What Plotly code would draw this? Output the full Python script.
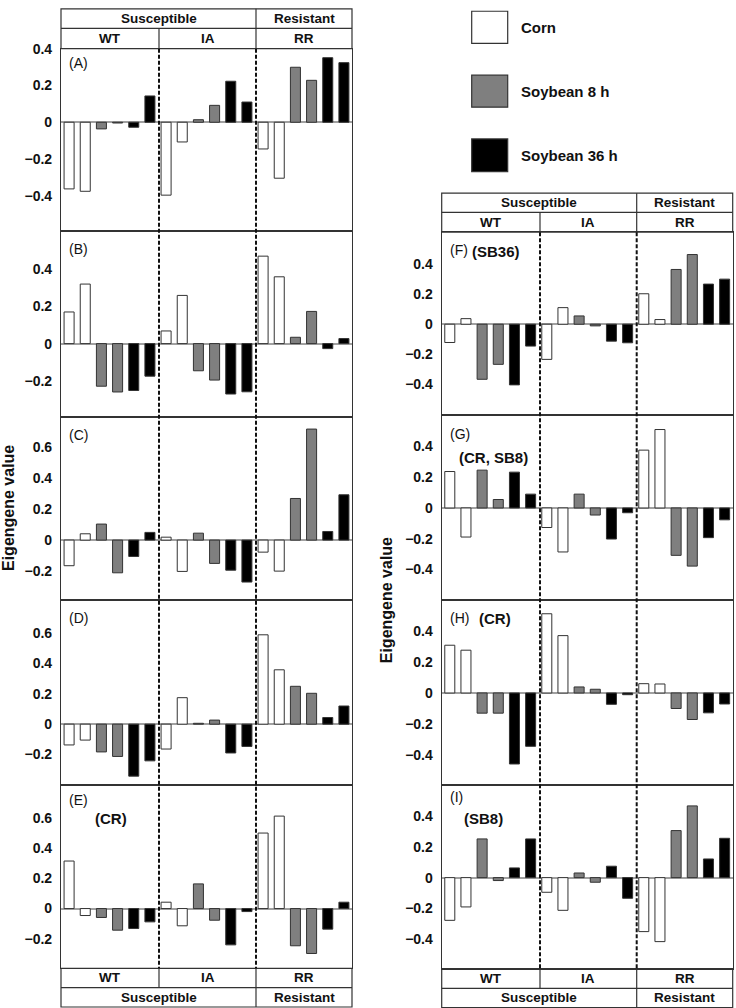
import plotly.graph_objects as go

W, H = 736, 1008

# ---------------- data ----------------
groups = ["WT", "IA", "RR"]
treatments = ["Corn", "Corn", "Soybean 8 h", "Soybean 8 h", "Soybean 36 h", "Soybean 36 h"]
bar_labels = [f"{g} {t} {i % 2 + 1}" for g in groups for i, t in enumerate(treatments)]

panel_A = [-0.362, -0.375, -0.036, -0.004, -0.027, 0.143,
           -0.396, -0.107, 0.014, 0.092, 0.223, 0.110,
           -0.145, -0.304, 0.299, 0.228, 0.351, 0.324]
panel_B = [0.170, 0.320, -0.229, -0.260, -0.252, -0.175,
           0.068, 0.259, -0.146, -0.196, -0.271, -0.259,
           0.470, 0.359, 0.034, 0.173, -0.027, 0.027]
panel_C = [-0.166, 0.041, 0.104, -0.212, -0.106, 0.050,
           0.019, -0.203, 0.045, -0.151, -0.195, -0.272,
           -0.078, -0.201, 0.270, 0.720, 0.056, 0.294]
panel_D = [-0.137, -0.105, -0.183, -0.213, -0.343, -0.242,
           -0.164, 0.175, 0.006, 0.027, -0.190, -0.147,
           0.590, 0.359, 0.250, 0.204, 0.044, 0.120]
panel_E = [0.314, -0.046, -0.059, -0.143, -0.132, -0.088,
           0.042, -0.114, 0.163, -0.077, -0.240, -0.020,
           0.499, 0.611, -0.246, -0.297, -0.136, 0.042]
panel_F = [-0.121, 0.037, -0.365, -0.266, -0.402, -0.145,
           -0.233, 0.110, 0.055, -0.011, -0.112, -0.123,
           0.202, 0.031, 0.363, 0.462, 0.266, 0.299]
panel_G = [0.237, -0.189, 0.246, 0.055, 0.233, 0.090,
           -0.127, -0.286, 0.090, -0.046, -0.202, -0.031,
           0.376, 0.510, -0.308, -0.378, -0.193, -0.077]
panel_H = [0.308, 0.276, -0.130, -0.130, -0.458, -0.344,
           0.511, 0.370, 0.039, 0.024, -0.073, -0.011,
           0.060, 0.058, -0.100, -0.171, -0.128, -0.071]
panel_I = [-0.277, -0.190, 0.251, -0.019, 0.063, 0.251,
           -0.095, -0.212, 0.030, -0.030, 0.074, -0.134,
           -0.350, -0.415, 0.305, 0.465, 0.121, 0.255]

panel_names = ["A", "B", "C", "D", "E", "F", "G", "H", "I"]
panel_values = [panel_A, panel_B, panel_C, panel_D, panel_E,
                panel_F, panel_G, panel_H, panel_I]
panel_notes = ["", "", "", "", "(CR)", "(SB36)", "(CR, SB8)", "(CR)", "(SB8)"]

tick_sets = {
    "A": [-0.4, -0.2, 0, 0.2, 0.4],
    "B": [-0.2, 0, 0.2, 0.4],
    "C": [-0.2, 0, 0.2, 0.4, 0.6],
    "D": [-0.2, 0, 0.2, 0.4, 0.6],
    "E": [-0.2, 0, 0.2, 0.4, 0.6],
    "F": [-0.4, -0.2, 0, 0.2, 0.4],
    "G": [-0.4, -0.2, 0, 0.2, 0.4],
    "H": [-0.4, -0.2, 0, 0.2, 0.4],
    "I": [-0.4, -0.2, 0, 0.2, 0.4],
}
y_ranges = {
    "A": [-0.592, 0.400], "B": [-0.393, 0.604], "C": [-0.390, 0.800],
    "D": [-0.400, 0.818], "E": [-0.395, 0.818], "F": [-0.600, 0.610],
    "G": [-0.598, 0.606], "H": [-0.594, 0.600], "I": [-0.590, 0.600],
}

legend_labels = ["Corn", "Soybean 8 h", "Soybean 36 h"]
treatment_colors = {"Corn": "#ffffff", "Soybean 8 h": "#7f7f7f", "Soybean 36 h": "#000000"}

# ---------------- layout geometry (pixels) ----------------
LX0, LX1 = 61, 352
RX0, RX1 = 441.7, 732.7
panel_px = {
    "A": (LX0, LX1, 41, 225), "B": (LX0, LX1, 225, 412), "C": (LX0, LX1, 412, 597),
    "D": (LX0, LX1, 597, 783), "E": (LX0, LX1, 783, 968),
    "F": (RX0, RX1, 226, 410), "G": (RX0, RX1, 410, 596.7),
    "H": (RX0, RX1, 596.7, 783.3), "I": (RX0, RX1, 783.3, 968.3),
}

def px(x):
    return x / W

def py(y):
    return 1 - y / H

FONT = "Liberation Sans, Arial, sans-serif"
LINE = "#333333"

fig = go.Figure()
layout = {}
bar_colors = [treatment_colors[t] for g in groups for t in treatments]

for k, (name, vals) in enumerate(zip(panel_names, panel_values)):
    idx = "" if k == 0 else str(k + 1)
    x0, x1, y0, y1 = panel_px[name]
    fig.add_trace(go.Bar(
        x=list(range(len(vals))), y=vals,
        xaxis="x" + idx, yaxis="y" + idx,
        width=0.62,
        marker=dict(color=bar_colors, line=dict(color=LINE, width=1)),
        hovertext=bar_labels, showlegend=False,
    ))
    ticks = tick_sets[name]
    layout["xaxis" + idx] = dict(
        domain=[px(x0), px(x1)], anchor="y" + idx, range=[-0.5, 17.5],
        showticklabels=False, ticks="", showgrid=False, zeroline=False,
        showline=True, mirror=True, linecolor=LINE, linewidth=1.2, fixedrange=True,
    )
    layout["yaxis" + idx] = dict(
        domain=[py(y1), py(y0)], anchor="x" + idx, range=y_ranges[name],
        tickvals=ticks,
        ticktext=["<b>" + ("0" if t == 0 else f"{t:.1f}".replace("-", "\u2212")) + "</b>" for t in ticks],
        tickfont=dict(family=FONT, size=14, color="#111"),
        ticks="", ticklabelstandoff=5, showgrid=False,
        zeroline=True, zerolinecolor="#a0a0a0", zerolinewidth=2,
        showline=True, mirror=True, linecolor=LINE, linewidth=1.2, fixedrange=True,
    )

fig.update_layout(**layout)

shapes = []
annotations = []

def rect(x0, y0, x1, y1, fill="rgba(0,0,0,0)", lw=1.5):
    shapes.append(dict(type="rect", xref="paper", yref="paper",
                       x0=px(x0), x1=px(x1), y0=py(y1), y1=py(y0),
                       line=dict(color=LINE, width=lw), fillcolor=fill, layer="above"))

def line(x0, y0, x1, y1, dash="solid", lw=1.5, color=LINE):
    shapes.append(dict(type="line", xref="paper", yref="paper",
                       x0=px(x0), x1=px(x1), y0=py(y0), y1=py(y1),
                       line=dict(color=color, width=lw, dash=dash), layer="above"))

def text(x, y, s, size=13, bold=True, xanchor="center", angle=0):
    annotations.append(dict(xref="paper", yref="paper", x=px(x), y=py(y),
                            text=("<b>" + s + "</b>") if bold else s, showarrow=False,
                            xanchor=xanchor, yanchor="middle", textangle=angle,
                            font=dict(family=FONT, size=size, color="#111")))

def header(x0, x1, d1, d2, y_outer0, y_mid, y_outer1, top):
    # two-row header: outer row "Susceptible | Resistant", inner row "WT | IA | RR"
    rect(x0, y_outer0, x1, y_outer1, lw=1.2)
    line(x0, y_mid, x1, y_mid, lw=1.2)
    line(d2, y_outer0, d2, y_outer1, lw=1.2)
    if top:
        line(d1, y_mid, d1, y_outer1, lw=1.2)
        outer_y, inner_y = (y_outer0 + y_mid) / 2, (y_mid + y_outer1) / 2
    else:
        line(d1, y_outer0, d1, y_mid, lw=1.2)
        inner_y, outer_y = (y_outer0 + y_mid) / 2, (y_mid + y_outer1) / 2
    text((x0 + d2) / 2, outer_y, "Susceptible", size=13.5)
    text((d2 + x1) / 2, outer_y, "Resistant", size=13.5)
    text((x0 + d1) / 2, inner_y, groups[0], size=13.5)
    text((d1 + d2) / 2, inner_y, groups[1], size=13.5)
    text((d2 + x1) / 2, inner_y, groups[2], size=13.5)

# left column
LD1, LD2 = 159, 256
header(LX0, LX1, LD1, LD2, 0.8, 20.5, 41, True)
header(LX0, LX1, LD1, LD2, 968, 987.5, 1007, False)
line(LD1, 41, LD1, 968, dash="4px,2px", lw=2, color="#111")
line(LD2, 41, LD2, 968, dash="4px,2px", lw=2, color="#111")

# right column
RD1, RD2 = 540, 636.7
header(RX0, RX1, RD1, RD2, 186.7, 206, 226, True)
header(RX0, RX1, RD1, RD2, 968.3, 988.3, 1007.5, False)
line(RD1, 226, RD1, 968.3, dash="4px,2px", lw=2, color="#111")
line(RD2, 226, RD2, 968.3, dash="4px,2px", lw=2, color="#111")

# panel labels
label_pos = {
    "A": (67, 55), "B": (67, 243), "C": (67, 430), "D": (67, 615), "E": (67, 798),
    "F": (448, 244), "G": (448, 429), "H": (448, 615), "I": (448, 795),
}
note_pos = {
    "E": (93, 817), "F": (470, 245), "G": (457, 452.7), "H": (477, 615), "I": (462, 817),
}
for name, note in zip(panel_names, panel_notes):
    lx, ly = label_pos[name]
    text(lx, ly, f"({name})", size=14, bold=False, xanchor="left")
    if note:
        nx, ny = note_pos[name]
        text(nx, ny, note, size=15, xanchor="left")

# y-axis titles
text(8, 504, "Eigengene value", size=16, angle=-90)
text(386, 597, "Eigengene value", size=16, angle=-90)

# legend
legend_y = [(3.3, 35.7), (67.7, 100), (132, 165)]
for lab, (y0, y1) in zip(legend_labels, legend_y):
    rect(471.7, y0, 507.7, y1, fill=treatment_colors[lab], lw=1.2)
    text(519, (y0 + y1) / 2, lab, size=15, xanchor="left")

fig.update_layout(
    width=W, height=H, margin=dict(l=0, r=0, t=0, b=0),
    paper_bgcolor="white", plot_bgcolor="white",
    shapes=shapes, annotations=annotations, showlegend=False,
    bargap=0.3,
)

fig.write_html(
    "out.html",
    config={"displayModeBar": False},
    post_script="document.body.style.margin='0';document.body.style.overflow='hidden';",
)
